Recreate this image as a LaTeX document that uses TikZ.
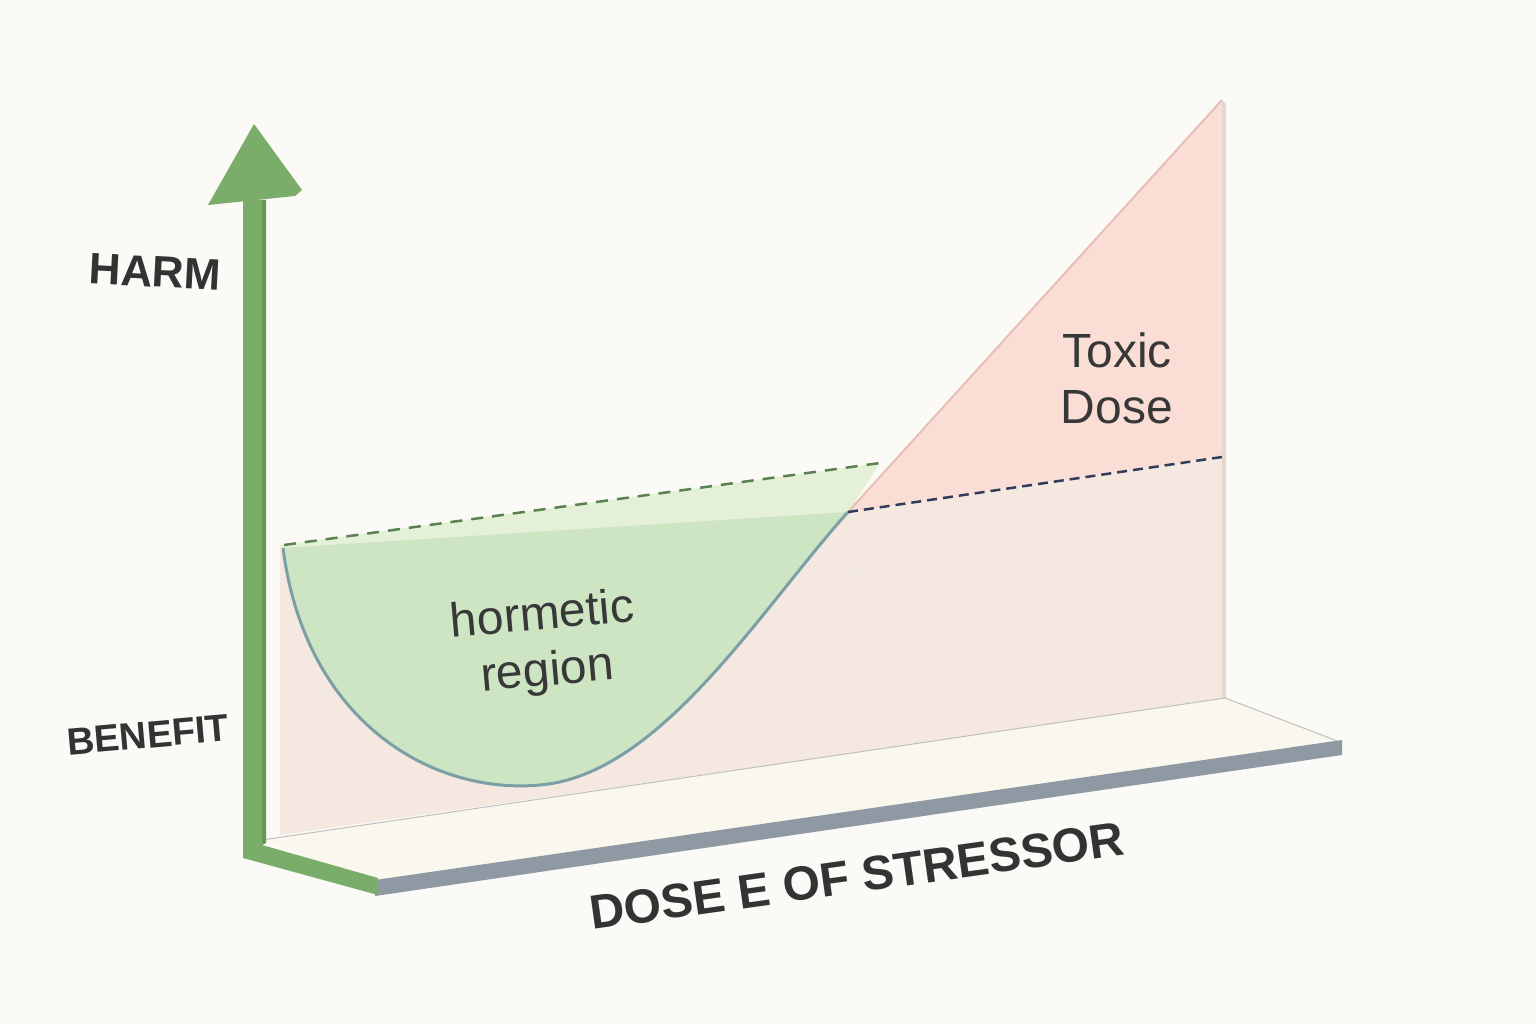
\documentclass[tikz,border=0pt]{standalone}
\usepackage{fontspec}
\setmainfont{Liberation Sans}
\definecolor{bgc}{RGB}{251,250,246}
\definecolor{wallc}{RGB}{244,232,224}
\definecolor{lgreen}{RGB}{228,240,216}
\definecolor{toxc}{RGB}{250,222,214}
\definecolor{toxedge}{RGB}{230,190,180}
\definecolor{toxside}{RGB}{232,214,208}
\definecolor{hgreen}{RGB}{206,229,196}
\definecolor{curvec}{RGB}{122,160,165}
\definecolor{dgreen}{RGB}{90,130,80}
\definecolor{navy}{RGB}{50,60,90}
\definecolor{floorc}{RGB}{250,248,238}
\definecolor{slate}{RGB}{142,153,163}
\definecolor{axisc}{RGB}{122,172,106}
\definecolor{axisd}{RGB}{100,150,86}
\begin{document}
\begin{tikzpicture}[x=1pt,y=-1pt,
 lbl/.style={font=\bfseries\fontsize{44}{50}\selectfont, text=black!80},
 reg/.style={font=\fontsize{48}{56}\selectfont, text=black!78, align=center}]
\fill[bgc] (0,0) rectangle (1536,1024);
\useasboundingbox (0,0) rectangle (1536,1024);
% wall
\fill[wallc] (280,545) -- (848,512) -- (1224,457) -- (1224,700) -- (280,835) -- cycle;
\draw[white!85!gray, line width=0.6] (848,512) -- (850,750);
% light green band
\fill[lgreen] (282,545) -- (880,463) -- (848,512) -- (282,548) -- cycle;
% toxic triangle
\fill[toxc] (848,512) -- (1222,100) -- (1222,457) -- cycle;
\draw[toxedge, line width=2] (848,512) -- (1222,100);
\fill[toxside] (1222,100) -- (1226,104) -- (1226,700) -- (1222,700) -- cycle;
% hormetic curve
\fill[hgreen] (283,548) .. controls (305,720) and (430,795) .. (540,785) .. controls (660,775) and (760,610) .. (848,512) -- cycle;
\draw[curvec, line width=3] (283,548) .. controls (305,720) and (430,795) .. (540,785) .. controls (660,775) and (760,610) .. (848,512);
\draw[dgreen, line width=2.5, dash pattern=on 12pt off 9pt] (284,545) -- (880,463);
\draw[navy, line width=2.5, dash pattern=on 10pt off 6pt] (848,512) -- (1222,457);
% floor
\fill[floorc] (262,840) -- (1225,698) -- (1340,742) -- (375,882) -- cycle;
\draw[gray!50, line width=1] (262,840) -- (1225,698) -- (1340,742);
\fill[slate] (375,880) -- (1342,740) -- (1342,755) -- (375,896) -- cycle;
% green axis
\fill[axisc] (243,200) -- (262,200) -- (262,845) -- (378,878) -- (378,895) -- (243,858) -- cycle;
\fill[axisd] (262,200) -- (266,200) -- (266,843) -- (262,845) -- cycle;
\fill[axisc] (208,205) -- (254,124) -- (302,190) -- (295,196) -- cycle;
% labels
\node[lbl, rotate=-3] (harm) at (155,272) {HARM};
\node[lbl, rotate=5, font=\bfseries\fontsize{38}{44}\selectfont] (ben) at (148,735) {BENEFIT};
\node[reg, rotate=5] (hr) at (545,645) {hormetic\\region};
\node[reg] (tox) at (1117,378) {Toxic\\Dose};
\node[lbl, rotate=8, font=\bfseries\fontsize{48}{52}\selectfont] (dose) at (857,876) {DOSE E OF STRESSOR};
\end{tikzpicture}
\end{document}
